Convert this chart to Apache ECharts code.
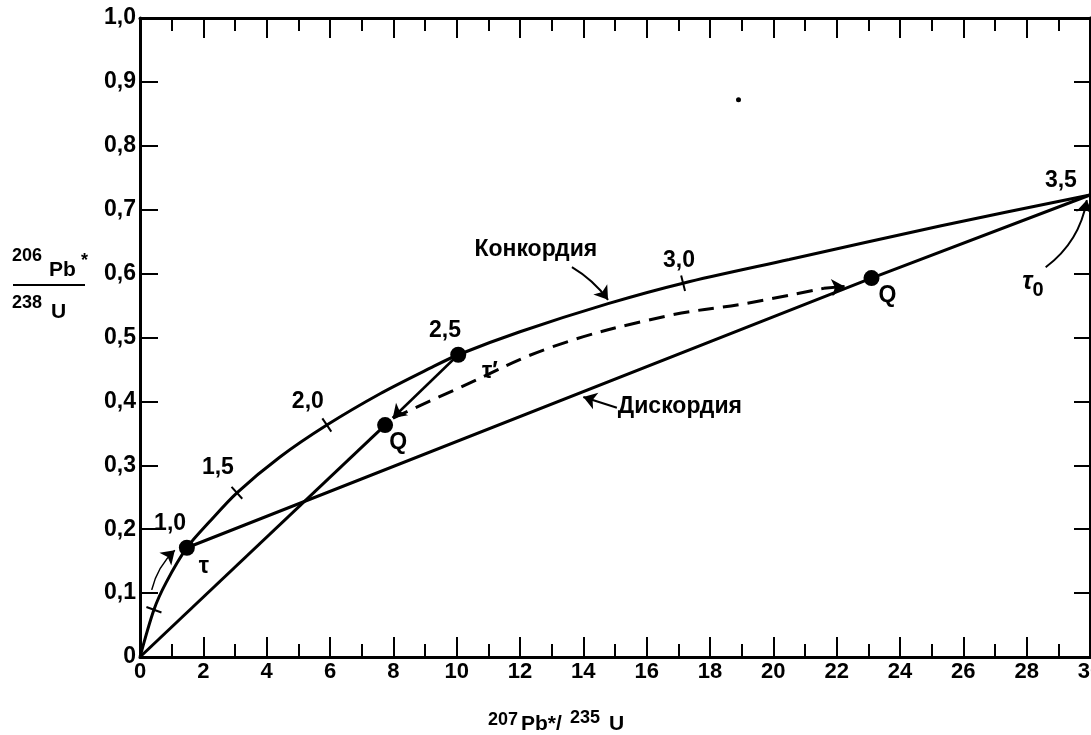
<!DOCTYPE html>
<html>
<head>
<meta charset="utf-8">
<script src="https://cdn.jsdelivr.net/npm/echarts@6/dist/echarts.min.js"></script>
<style>
html, body { margin: 0; padding: 0; background: #fff; }
#chart { width: 1091px; height: 735px; }
</style>
</head>
<body>
<div id="chart"></div>
<script>
// axes
var xMin = 0, xMax = 30, xStep = 2;
var yMin = 0, yMax = 1, yStep = 0.1;

// concordia curve
var concordia = [[0, 0], [0.44, 0.074], [0.82, 0.116], [1.48, 0.171], [2.2, 0.212], [3.06, 0.257],
    [4.42, 0.313], [5.9, 0.363], [7.58, 0.412], [9.16, 0.452], [10.05, 0.473], [12.0, 0.509],
    [14.78, 0.553], [17.15, 0.585], [20.5, 0.622], [25.3, 0.675], [30, 0.723]];
// discordia tau -> tau0
var discordia = [[1.48, 0.171], [23.1, 0.593], [30, 0.723]];
// chord from the origin up to Q
var originChord = [[0, 0], [7.74, 0.363]];
// dashed path Q -> Q
var qPath = [[7.99, 0.374], [10.07, 0.421], [13.0, 0.485], [16.58, 0.533], [19.1, 0.553], [21.6, 0.577]];
// points
var dotValues = [[1.48, 0.171], [10.05, 0.473], [7.74, 0.363], [23.1, 0.593]];
// age ticks on concordia (0.5, 1.5, 2.0, 3.0 Gyr)
var ageMarks = [[0.44, 0.074], [3.06, 0.257], [5.9, 0.363], [17.15, 0.585]];
var ageLabels = ['1,0', '1,5', '2,0', '2,5', '3,0', '3,5'];
var ageLabelAt = [[0.95, 0.208], [2.46, 0.297], [5.3, 0.40], [9.63, 0.51], [17.02, 0.62], [29.08, 0.745]];
// other notes
var noteLabels = ['Конкордия', 'Дискордия', 'τ', 'τ′', 'Q', 'Q', '{t|τ}{s|0}'];
var noteAt = [[12.5, 0.637], [17.05, 0.391], [2.02, 0.141], [11.05, 0.446], [8.15, 0.335], [23.6, 0.566], [28.2, 0.587]];
// arrows: from, to
var arrowFrom = [[10.05, 0.473], [21.6, 0.577], [0.37, 0.105], [28.6, 0.61], [13.64, 0.61], [15.06, 0.39]];
var arrowTo = [[7.98, 0.374], [22.25, 0.58], [1.1, 0.167], [29.9, 0.715], [14.78, 0.559], [14.0, 0.407]];
var speck = [[18.9, 0.872]];

// styles
var markRotate = [70, 42, 34, 14];
var arrowCurve = [0, 0, 0.15, -0.2, 0.1, 0];
var arrowWidth = [2.5, 3, 1.5, 2, 2, 2];

var FONT = 'Liberation Sans';
var ink = '#000';

var myChart = echarts.init(document.getElementById('chart'));

var pairs = function (vals, names) {
    var res = [];
    for (var i = 0; i < vals.length; i++) {
        res.push({ name: names[i], value: vals[i] });
    }
    return res;
};

var arrowData = [];
for (var i = 0; i < arrowFrom.length; i++) {
    arrowData.push({
        coords: [arrowFrom[i], arrowTo[i]],
        lineStyle: { curveness: arrowCurve[i], width: arrowWidth[i] }
    });
}

var markData = [];
for (var i = 0; i < ageMarks.length; i++) {
    markData.push({ value: ageMarks[i], symbolRotate: markRotate[i] });
}

var textLabel = {
    show: true,
    position: 'inside',
    formatter: '{b}',
    color: ink,
    opacity: 1,
    fontFamily: FONT,
    fontWeight: 'bold',
    fontSize: 23,
    rich: {
        t: { fontSize: 25, fontStyle: 'italic', fontFamily: FONT, fontWeight: 'bold', color: ink },
        s: { fontSize: 20, fontFamily: FONT, fontWeight: 'bold', color: ink, padding: [18, 0, 0, 0] }
    }
};

var axisCommon = function (pos, showLabel) {
    return {
        type: 'value',
        position: pos,
        axisLine: { show: true, onZero: false, lineStyle: { color: ink, width: 3 } },
        splitLine: { show: false },
        axisLabel: { show: showLabel }
    };
};

var xBottom = axisCommon('bottom', true);
xBottom.min = xMin; xBottom.max = xMax; xBottom.interval = xStep;
xBottom.axisTick = { show: true, inside: true, length: 20, lineStyle: { color: ink, width: 2 } };
xBottom.minorTick = { show: true, splitNumber: 2, length: 13, lineStyle: { color: ink, width: 2 } };
xBottom.axisLabel = { show: true, color: ink, fontFamily: FONT, fontWeight: 'bold', fontSize: 22, margin: 4 };

var xTop = axisCommon('top', false);
xTop.min = xMin; xTop.max = xMax; xTop.interval = xStep;
xTop.axisTick = { show: true, inside: true, length: 20, lineStyle: { color: ink, width: 2 } };
xTop.minorTick = { show: true, splitNumber: 2, length: 13, lineStyle: { color: ink, width: 2 } };

var yLeft = axisCommon('left', true);
yLeft.min = yMin; yLeft.max = yMax; yLeft.interval = yStep;
yLeft.axisTick = { show: true, inside: true, length: 18, lineStyle: { color: ink, width: 2 } };
yLeft.axisLabel = {
    show: true, color: ink, fontFamily: FONT, fontWeight: 'bold', fontSize: 23, margin: 4,
    formatter: function (v) { return v === 0 ? '0' : v.toFixed(1).replace('.', ','); }
};

var yRight = axisCommon('right', false);
yRight.min = yMin; yRight.max = yMax; yRight.interval = yStep;
yRight.axisTick = { show: true, inside: true, length: 16, lineStyle: { color: ink, width: 2 } };

var titleText = function (txt, x, y, size) {
    return {
        type: 'text', x: x, y: y,
        style: { text: txt, fill: ink, font: 'bold ' + size + 'px "' + FONT + '"' }
    };
};

myChart.setOption({
    backgroundColor: '#fff',
    animation: false,
    grid: { left: 140, right: 1, top: 18, bottom: 78, outerBoundsMode: 'none', containLabel: false },
    xAxis: [xBottom, xTop],
    yAxis: [yLeft, yRight],
    graphic: [
        // y title: 206Pb*/238U
        titleText('206', 12, 247, 18),
        titleText('Pb', 49, 260, 21),
        titleText('*', 81, 252, 18),
        { type: 'line', shape: { x1: 13, y1: 285, x2: 85, y2: 285 }, style: { stroke: ink, lineWidth: 2 } },
        titleText('238', 12, 294, 18),
        titleText('U', 51, 302, 21),
        // x title: 207Pb*/235U
        titleText('207', 488, 711, 18),
        titleText('Pb*/', 521, 714, 21),
        titleText('235', 570, 709, 18),
        titleText('U', 609, 714, 21)
    ],
    series: [
        {
            name: 'Конкордия', type: 'line', data: concordia, smooth: 0.3,
            symbol: 'none', lineStyle: { color: ink, width: 3 }, z: 3
        },
        {
            name: 'Дискордия', type: 'line', data: discordia,
            symbol: 'none', lineStyle: { color: ink, width: 3 }, z: 3
        },
        {
            name: 'chord', type: 'line', data: originChord,
            symbol: 'none', lineStyle: { color: ink, width: 3 }, z: 3
        },
        {
            name: 'path', type: 'line', data: qPath, smooth: 0.4,
            symbol: 'none', lineStyle: { color: ink, width: 3, type: [16, 9] }, z: 3
        },
        {
            name: 'arrows', type: 'lines', coordinateSystem: 'cartesian2d',
            symbol: ['none', 'arrow'], symbolSize: [0, 13],
            lineStyle: { color: ink, opacity: 1 },
            data: arrowData, z: 4
        },
        {
            name: 'ages', type: 'scatter', data: markData,
            symbol: 'rect', symbolSize: [2, 16], itemStyle: { color: ink, opacity: 1 }, z: 5
        },
        {
            name: 'points', type: 'scatter', data: dotValues,
            symbol: 'circle', symbolSize: 16, itemStyle: { color: ink, opacity: 1 }, z: 6
        },
        {
            name: 'speck', type: 'scatter', data: speck,
            symbol: 'circle', symbolSize: 5, itemStyle: { color: ink, opacity: 1 }, z: 6
        },
        {
            name: 'ageLabels', type: 'scatter', data: pairs(ageLabelAt, ageLabels),
            symbolSize: 1, itemStyle: { color: 'rgba(0,0,0,0)', opacity: 1 }, label: textLabel, z: 7
        },
        {
            name: 'notes', type: 'scatter', data: pairs(noteAt, noteLabels),
            symbolSize: 1, itemStyle: { color: 'rgba(0,0,0,0)', opacity: 1 }, label: textLabel, z: 7
        }
    ]
});
</script>
</body>
</html>
